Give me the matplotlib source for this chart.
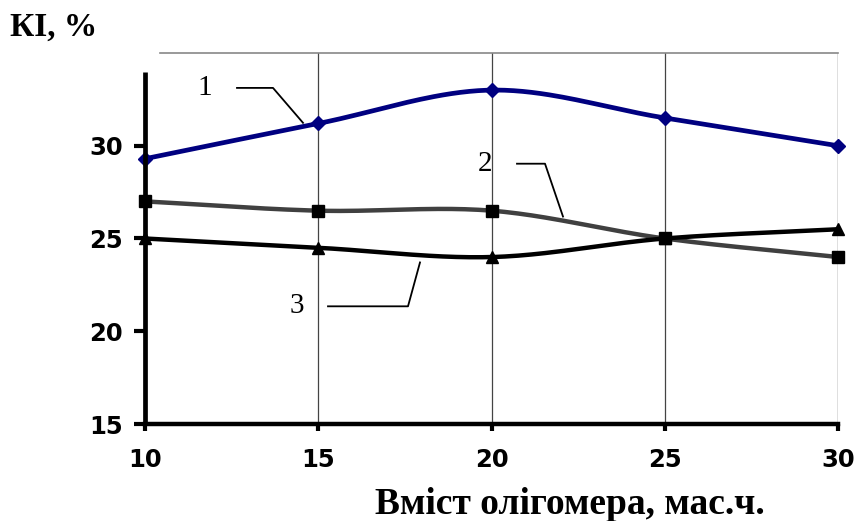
import numpy as np
import matplotlib
matplotlib.use("Agg")
import matplotlib.pyplot as plt

x = [10, 15, 20, 25, 30]
ki1 = [29.3, 31.2, 33.0, 31.5, 30.0]
ki2 = [27.0, 26.5, 26.5, 25.0, 24.0]
ki3 = [25.0, 24.5, 24.0, 25.0, 25.5]
xticks = [10, 15, 20, 25, 30]
yticks = [15, 20, 25, 30]
curve_labels = ["1", "2", "3"]
y_title = "КІ, %"
x_title = "Вміст олігомера, мас.ч."


def smooth(xs, ys, n=40):
    xs = np.asarray(xs, float)
    ys = np.asarray(ys, float)
    px = np.concatenate([[2 * xs[0] - xs[1]], xs, [2 * xs[-1] - xs[-2]]])
    py = np.concatenate([[2 * ys[0] - ys[1]], ys, [2 * ys[-1] - ys[-2]]])
    ox, oy = [], []
    for i in range(1, len(px) - 2):
        t = np.linspace(0, 1, n)
        for arr, out in ((px, ox), (py, oy)):
            p0, p1, p2, p3 = arr[i - 1], arr[i], arr[i + 1], arr[i + 2]
            out.extend(0.5 * ((2 * p1) + (-p0 + p2) * t +
                              (2 * p0 - 5 * p1 + 4 * p2 - p3) * t ** 2 +
                              (-p0 + 3 * p1 - 3 * p2 + p3) * t ** 3))
    return np.array(ox), np.array(oy)


fig = plt.figure(figsize=(8.58, 5.21), dpi=100)
ax = fig.add_axes([145 / 858, 97 / 521, (838 - 145) / 858, (424 - 53) / 521])
ax.set_xlim(10, 30)
ax.set_ylim(15, 35)

for s in ["top", "right", "left"]:
    ax.spines[s].set_visible(False)
ax.spines["bottom"].set_linewidth(3.2)
ax.spines["bottom"].set_zorder(6)

# gridlines
for gx in xticks[1:]:
    ax.axvline(gx, color="black" if gx == 30 else "#444444", lw=0.9, zorder=1)
# top border
ax.plot([10.43, 30], [35, 35], color="#888888", lw=1.2, clip_on=False, zorder=1)
# left axis line
ax.plot([10, 10], [15, 34.0], color="black", lw=3.4, clip_on=False, zorder=6,
        solid_capstyle="butt")

series = [
    (ki1, "#000080", "D", 7, 3.4),
    (ki2, "#404040", "s", 8.5, 3.2),
    (ki3, "#000000", "^", 8.5, 3.2),
]
for ys, col, mk, ms, lw in series:
    sx, sy = smooth(x, ys)
    ax.plot(sx, sy, color=col, lw=lw, zorder=4, clip_on=False, solid_capstyle="round")
    ax.plot(x, ys, linestyle="none", marker=mk, color="black" if col != "#000080" else col,
            ms=ms, zorder=5, clip_on=False)

ax.set_xticks(xticks)
ax.set_yticks(yticks)
ax.tick_params(axis="y", direction="out", length=8, width=3, pad=8)
ax.tick_params(axis="x", direction="out", length=5, width=3, pad=12)
for lab in ax.get_xticklabels() + ax.get_yticklabels():
    lab.set_fontfamily("DejaVu Sans")
    lab.set_fontweight("bold")
    lab.set_fontsize(17.5)

# curve labels with leader lines
def px2d(px, py):
    return 10 + (px - 145) / 34.65, 15 + (424 - py) / 18.6

leaders = [
    ((205, 87), [(237, 87), (273, 87), (303, 122)]),
    ((485, 163), [(517, 163), (545, 163), (563, 216)]),
    ((297, 306), [(328, 306), (408, 306), (420, 262)]),
]
for lab, ((tx, ty), pts) in zip(curve_labels, leaders):
    dx, dy = px2d(tx, ty)
    ax.text(dx, dy, lab, fontsize=21, family="Liberation Serif", ha="center",
            va="center", zorder=7)
    lx, ly = zip(*[px2d(a, b) for a, b in pts])
    ax.plot(lx, ly, color="black", lw=1.3, zorder=7, clip_on=False)

fig.text(10 / 858, 1 - 27 / 521, y_title, fontsize=24, family="Liberation Serif",
         fontweight="bold", ha="left", va="center")
fig.text(570 / 858, 1 - 504 / 521, x_title, fontsize=27, family="Liberation Serif",
         fontweight="bold", ha="center", va="center")

fig.savefig("out.png", dpi=100)
